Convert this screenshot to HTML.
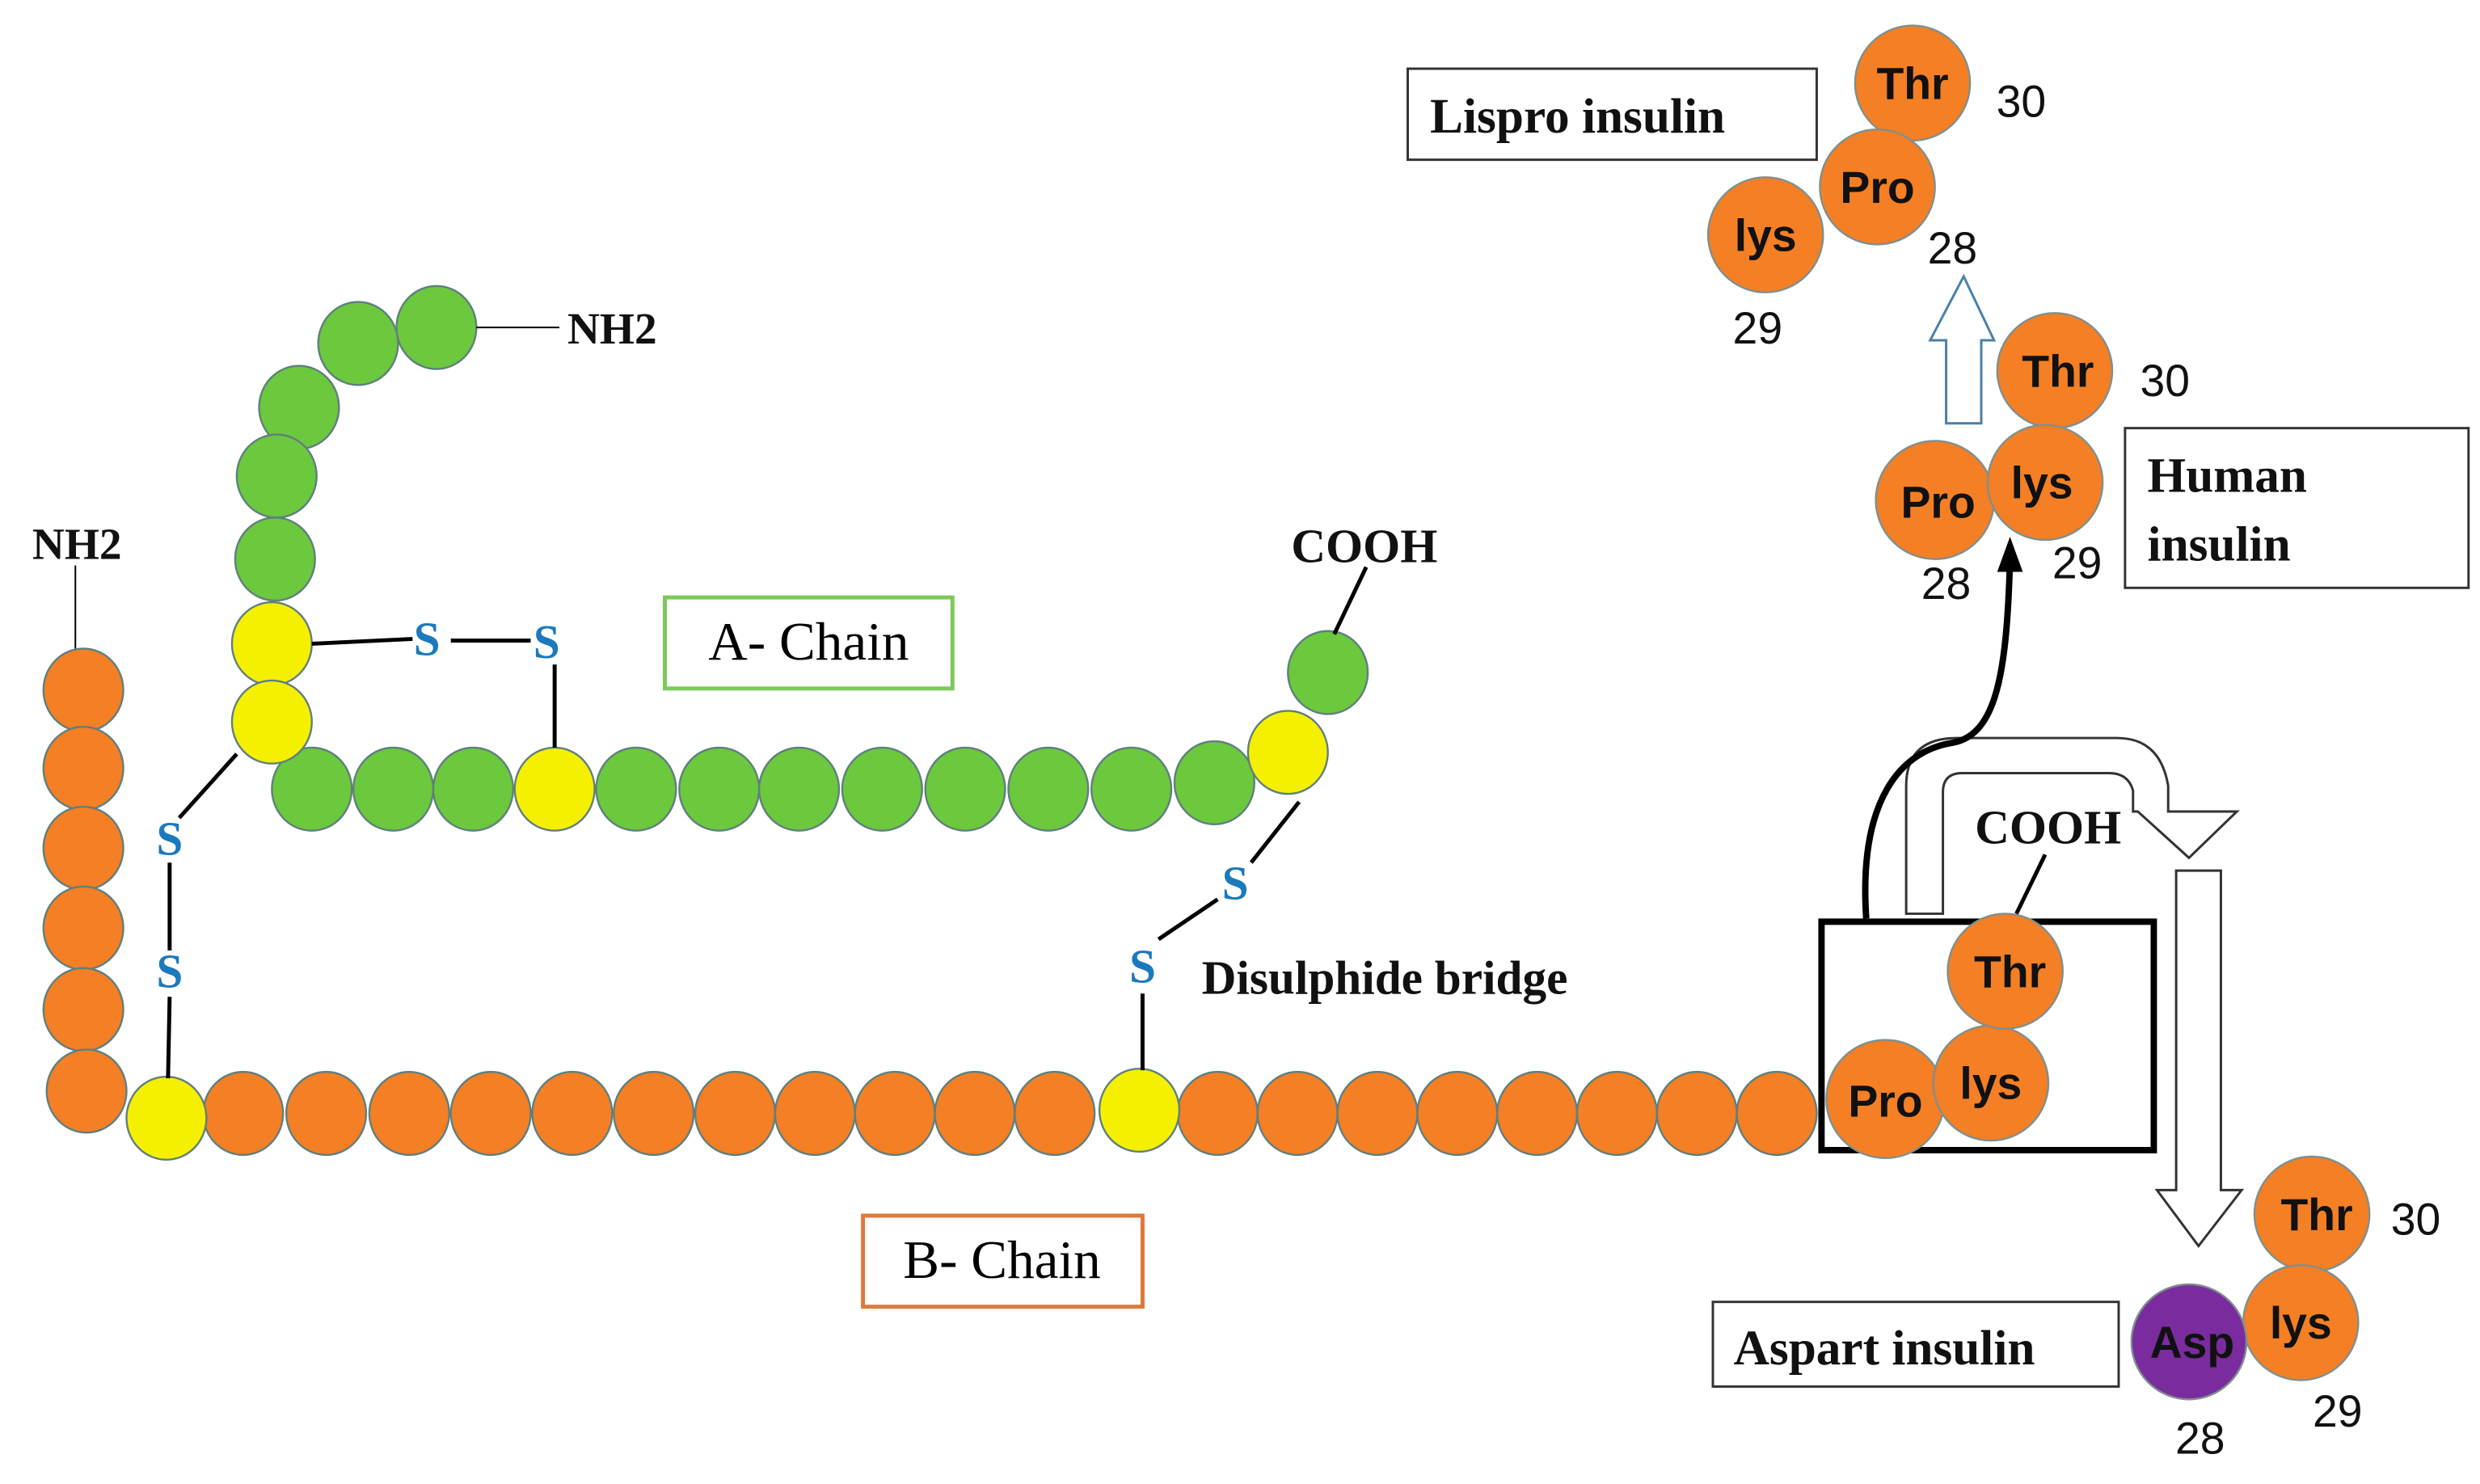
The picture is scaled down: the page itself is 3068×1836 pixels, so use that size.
<!DOCTYPE html>
<html><head><style>html,body{margin:0;padding:0;background:#fff}svg{display:block}</style></head>
<body>
<svg width="3068" height="1836" viewBox="0 0 1552 929" xmlns="http://www.w3.org/2000/svg">
<defs>
<marker id="ah" markerWidth="8" markerHeight="8" refX="4" refY="4" orient="auto" markerUnits="userSpaceOnUse" viewBox="0 0 8 8"><path d="M0,0 L8,4 L0,8 Z" fill="#000"/></marker>
</defs>
<g stroke="#5f7f7f" stroke-width="1.2">
<!-- B chain vertical -->
<g fill="#f47f24">
<ellipse cx="52" cy="432" rx="25" ry="26"/><ellipse cx="52" cy="481" rx="25" ry="26"/><ellipse cx="52" cy="531" rx="25" ry="26"/><ellipse cx="52" cy="581" rx="25" ry="26"/><ellipse cx="52" cy="632" rx="25" ry="26"/><ellipse cx="54" cy="683" rx="25" ry="26"/>
<ellipse cx="152" cy="697" rx="25" ry="26"/><ellipse cx="204" cy="697" rx="25" ry="26"/><ellipse cx="256" cy="697" rx="25" ry="26"/><ellipse cx="307" cy="697" rx="25" ry="26"/><ellipse cx="358" cy="697" rx="25" ry="26"/><ellipse cx="409" cy="697" rx="25" ry="26"/><ellipse cx="460" cy="697" rx="25" ry="26"/><ellipse cx="510" cy="697" rx="25" ry="26"/><ellipse cx="560" cy="697" rx="25" ry="26"/><ellipse cx="610" cy="697" rx="25" ry="26"/><ellipse cx="660" cy="697" rx="25" ry="26"/>
<ellipse cx="762" cy="697" rx="25" ry="26"/><ellipse cx="812" cy="697" rx="25" ry="26"/><ellipse cx="862" cy="697" rx="25" ry="26"/><ellipse cx="912" cy="697" rx="25" ry="26"/><ellipse cx="962" cy="697" rx="25" ry="26"/><ellipse cx="1012" cy="697" rx="25" ry="26"/><ellipse cx="1062" cy="697" rx="25" ry="26"/><ellipse cx="1112" cy="697" rx="25" ry="26"/>
</g>
<g fill="#f5f000"><ellipse cx="104" cy="700" rx="25" ry="26"/><ellipse cx="713" cy="695" rx="25" ry="26"/></g>
<!-- A chain -->
<g fill="#6cc83c">
<ellipse cx="273" cy="205" rx="25" ry="26"/><ellipse cx="224" cy="215" rx="25" ry="26"/><ellipse cx="187" cy="255" rx="25" ry="26"/><ellipse cx="173" cy="298" rx="25" ry="26"/><ellipse cx="172" cy="350" rx="25" ry="26"/>
<ellipse cx="195" cy="494" rx="25" ry="26"/><ellipse cx="246" cy="494" rx="25" ry="26"/><ellipse cx="296" cy="494" rx="25" ry="26"/><ellipse cx="398" cy="494" rx="25" ry="26"/><ellipse cx="450" cy="494" rx="25" ry="26"/><ellipse cx="500" cy="494" rx="25" ry="26"/><ellipse cx="552" cy="494" rx="25" ry="26"/><ellipse cx="604" cy="494" rx="25" ry="26"/><ellipse cx="656" cy="494" rx="25" ry="26"/><ellipse cx="708" cy="494" rx="25" ry="26"/><ellipse cx="760" cy="490" rx="25" ry="26"/>
<ellipse cx="831" cy="421" rx="25" ry="26"/>
</g>
<g fill="#f5f000"><ellipse cx="170" cy="403" rx="25" ry="26"/><ellipse cx="170" cy="452" rx="25" ry="26"/><ellipse cx="347" cy="494" rx="25" ry="26"/><ellipse cx="806" cy="471" rx="25" ry="26"/></g>
</g>
<!-- lines -->
<g stroke="#000" stroke-width="2.5" fill="none">
<path d="M195,403 L258,400 M282,401 L332,401 M347,416 L347,468 M148,472 L112,512 M106,540 L106,595 M106,624 L105,675 M813,502 L783,540 M762,563 L725,588 M715,622 L715,670 M855,355 L835,397 M1280,535 L1262,572"/>
</g>
<g stroke="#000" stroke-width="1" fill="none"><path d="M298,205 L350,205 M47,354 L47,406"/></g>
<!-- S labels -->
<g font-family="Liberation Serif, serif" font-weight="bold" font-size="30" fill="#1b79bd" text-anchor="middle">
<text x="267" y="410">S</text><text x="342" y="412">S</text><text x="106" y="535">S</text><text x="106" y="618">S</text><text x="773" y="563">S</text><text x="715" y="615">S</text>
</g>
<g font-family="Liberation Serif, serif" font-weight="bold" fill="#111">
<text x="355" y="215" font-size="28">NH2</text>
<text x="20" y="350" font-size="28">NH2</text>
<text x="808" y="352" font-size="30">COOH</text>
<text x="1236" y="528" font-size="30">COOH</text>
<text x="752" y="622" font-size="30">Disulphide bridge</text>
</g>
<!-- chain boxes -->
<rect x="416" y="374" width="180" height="57" fill="none" stroke="#7cc85a" stroke-width="2.5"/>
<text x="506" y="413" font-family="Liberation Serif, serif" font-size="34" text-anchor="middle">A- Chain</text>
<rect x="540" y="761" width="175" height="57" fill="none" stroke="#e07838" stroke-width="2.5"/>
<text x="627" y="800" font-family="Liberation Serif, serif" font-size="34" text-anchor="middle">B- Chain</text>
<!-- arrows -->
<path d="M1193,572 L1193,492 Q1193,462 1225,462 L1325,462 Q1352,462 1357,492 L1357,508 L1400,508 L1370,537 L1338,508 L1335,508 L1335,495 Q1332,484 1320,484 L1228,484 Q1216,484 1216,496 L1216,572 Z" fill="#fff" stroke="#333" stroke-width="1.5"/>
<path d="M1362,545 L1390,545 L1390,745 L1403,745 L1376,780 L1350,745 L1362,745 Z" fill="#fff" stroke="#333" stroke-width="1.5"/>
<path d="M1218,265 L1240,265 L1240,213 L1248,213 L1229,173 L1208,213 L1218,213 Z" fill="#fff" stroke="#4a7fa8" stroke-width="1.5"/>
<path d="M1168,575 C1163,500 1190,470 1222,465 C1250,460 1256,420 1258,350" fill="none" stroke="#000" stroke-width="4"/>
<path d="M1258,336 L1266,358 L1250,358 Z" fill="#000"/>
<rect x="1140" y="577" width="208" height="143" fill="none" stroke="#000" stroke-width="4"/>
<!-- labeled residues -->
<g stroke="#7f8f8f" stroke-width="1.2" fill="#f47f24">
<circle cx="1180" cy="688" r="37"/><circle cx="1246" cy="678" r="36"/><circle cx="1255" cy="608" r="36"/>
<circle cx="1197" cy="52" r="36"/><circle cx="1175" cy="117" r="36"/><circle cx="1105" cy="147" r="36"/>
<circle cx="1286" cy="232" r="36"/><circle cx="1211" cy="313" r="37"/><circle cx="1280" cy="302" r="36"/>
<circle cx="1447" cy="760" r="36"/><circle cx="1440" cy="828" r="36"/>
<circle cx="1370" cy="840" r="36" fill="#7a2c9e"/>
</g>
<g font-family="Liberation Sans, sans-serif" font-weight="bold" font-size="28" fill="#111" text-anchor="middle">
<text x="1180" y="699">Pro</text><text x="1246" y="688">lys</text><text x="1258" y="618">Thr</text>
<text x="1197" y="62">Thr</text><text x="1175" y="127">Pro</text><text x="1105" y="157">lys</text>
<text x="1288" y="242">Thr</text><text x="1213" y="324">Pro</text><text x="1278" y="312">lys</text>
<text x="1450" y="770">Thr</text><text x="1440" y="838">lys</text><text x="1372" y="850">Asp</text>
</g>
<g font-family="Liberation Sans, sans-serif" font-size="28" fill="#111" text-anchor="middle">
<text x="1265" y="73">30</text><text x="1222" y="165">28</text><text x="1100" y="215">29</text>
<text x="1355" y="248">30</text><text x="1218" y="375">28</text><text x="1300" y="362">29</text>
<text x="1512" y="773">30</text><text x="1377" y="910">28</text><text x="1463" y="893">29</text>
</g>
<!-- labels boxes -->
<g fill="none" stroke="#333" stroke-width="1.5">
<rect x="881" y="43" width="256" height="57"/><rect x="1330" y="268" width="215" height="100"/><rect x="1072" y="815" width="254" height="53"/>
</g>
<g font-family="Liberation Serif, serif" font-weight="bold" font-size="31" fill="#111">
<text x="895" y="83">Lispro insulin</text>
<text x="1344" y="308">Human</text><text x="1344" y="351">insulin</text>
<text x="1085" y="854">Aspart insulin</text>
</g>
</svg>
</body></html>
